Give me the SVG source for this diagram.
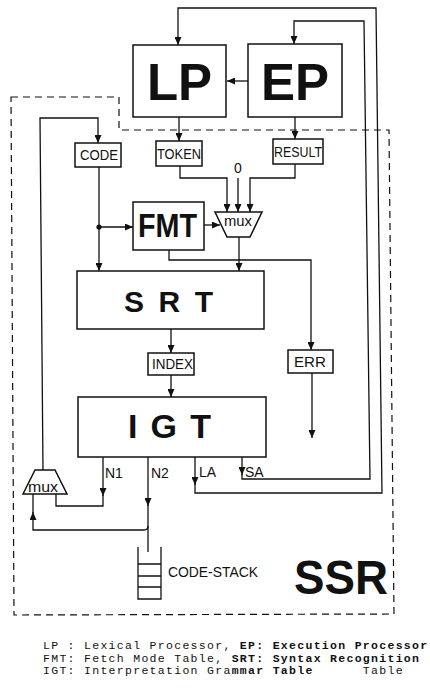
<svg xmlns="http://www.w3.org/2000/svg" width="430" height="689" viewBox="0 0 430 689">
<style>
.box{fill:#fff;stroke:#111;stroke-width:1.5}
.ln{fill:none;stroke:#111;stroke-width:1.3}
.dash{fill:none;stroke:#111;stroke-width:1.2;stroke-dasharray:7 5}
.big{font-family:"Liberation Sans",Arial,sans-serif;font-weight:bold;fill:#111}
.lbl{font-family:"Liberation Sans",Arial,sans-serif;font-size:14px;fill:#111}
.leg{font-family:"Liberation Mono","Courier New",monospace;font-size:11.5px;letter-spacing:1.3px;fill:#111}
.b{font-weight:bold}
</style>
<defs>
<marker id="ah" markerUnits="userSpaceOnUse" markerWidth="9" markerHeight="7" refX="8" refY="3.5" orient="auto">
<path d="M0,0 L8,3.5 L0,7 Z" fill="#111"/>
</marker>
</defs>
<rect width="430" height="689" fill="#fff"/>
<path class="dash" d="M11,97 L119,97 L119,130 L389,130 L394,614 L14,615 Z"/>
<g id="connectors">
<path class="ln" d="M248,81 L227,81" marker-end="url(#ah)"/>
<path class="ln" d="M179,117 L179,141" marker-end="url(#ah)"/>
<path class="ln" d="M295,117 L295,139" marker-end="url(#ah)"/>
<path class="ln" d="M43,470 L40,118 L98,118 L98,143" marker-end="url(#ah)"/>
<path class="ln" d="M180,166 L180,178 L227,178 L227,212" marker-end="url(#ah)"/>
<path class="ln" d="M238,178 L238,212" marker-end="url(#ah)"/>
<path class="ln" d="M295,164 L295,178 L250,178 L250,212" marker-end="url(#ah)"/>
<path class="ln" d="M99,167 L99,271" marker-end="url(#ah)"/>
<path class="ln" d="M99,227 L133,227" marker-end="url(#ah)"/>
<circle cx="99" cy="227" r="2.6" fill="#111"/>
<path class="ln" d="M204,225 L220,225" marker-end="url(#ah)"/>
<path class="ln" d="M239,237 L239,271" marker-end="url(#ah)"/>
<path class="ln" d="M169,250 L169,260 L311,260 L311,350" marker-end="url(#ah)"/>
<path class="ln" d="M171,329 L171,353" marker-end="url(#ah)"/>
<path class="ln" d="M171,375 L171,397" marker-end="url(#ah)"/>
<path class="ln" d="M312,373 L312,438" marker-end="url(#ah)"/>
<path class="ln" d="M103,457 L103,496" marker-end="url(#ah)"/>
<path class="ln" d="M103,495 L103,506 L56,506 L56,494"/>
<path class="ln" d="M148,457 L148,506" marker-end="url(#ah)"/>
<path class="ln" d="M148,505 L148,552"/>
<path class="ln" d="M148,526 Q148,530 144,530 L33,530 L33,512" marker-end="url(#ah)"/>
<path class="ln" d="M33,513 L33,494"/>
<path class="ln" d="M195,457 L195,485" marker-end="url(#ah)"/>
<path class="ln" d="M195,484 L195,493 L382,493 L376,8 L178,8 L178,45" marker-end="url(#ah)"/>
<path class="ln" d="M242,457 L242,475" marker-end="url(#ah)"/>
<path class="ln" d="M242,474 L242,479 L370,479 L364,21 L294,21 L294,44" marker-end="url(#ah)"/>
</g>
<g id="LP"><rect class="box" x="133" y="45" width="93" height="72"/><text class="big" x="179.5" y="100" font-size="51" text-anchor="middle">LP</text></g>
<g id="EP"><rect class="box" x="248" y="44" width="94" height="73"/><text class="big" x="295" y="100" font-size="51" text-anchor="middle">EP</text></g>
<g id="CODE"><rect class="box" x="75" y="143" width="46" height="24"/><text class="lbl" x="80" y="160" textLength="38" lengthAdjust="spacingAndGlyphs">CODE</text></g>
<g id="TOKEN"><rect class="box" x="156" y="141" width="46" height="25"/><text class="lbl" x="157" y="159" textLength="44" lengthAdjust="spacingAndGlyphs">TOKEN</text></g>
<g id="RESULT"><rect class="box" x="273" y="139" width="50" height="25"/><text class="lbl" x="274" y="157" textLength="48" lengthAdjust="spacingAndGlyphs">RESULT</text></g>
<g id="zero"><text class="lbl" x="238" y="173" font-size="15" text-anchor="middle">0</text></g>
<g id="FMT"><rect class="box" x="133" y="202" width="71" height="48"/><text class="big" x="138" y="237" font-size="33" textLength="59" lengthAdjust="spacingAndGlyphs">FMT</text></g>
<g id="mux1"><path class="box" d="M215,212 L262,212 L250,237 L227,237 Z"/><text class="lbl" x="224" y="226" font-size="15" textLength="28" lengthAdjust="spacingAndGlyphs">mux</text></g>
<g id="SRT"><rect class="box" x="77" y="271" width="187" height="58"/><text class="big" x="124" y="312" font-size="30" textLength="89" lengthAdjust="spacing">S R T</text></g>
<g id="INDEX"><rect class="box" x="148" y="353" width="46" height="22"/><text class="lbl" x="152" y="369" textLength="41" lengthAdjust="spacingAndGlyphs">INDEX</text></g>
<g id="ERR"><rect class="box" x="288" y="350" width="45" height="23"/><text class="lbl" x="294" y="367" textLength="32" lengthAdjust="spacingAndGlyphs">ERR</text></g>
<g id="IGT"><rect class="box" x="78" y="397" width="188" height="60"/><text class="big" x="128" y="438" font-size="34" textLength="83" lengthAdjust="spacing">I G T</text></g>
<g id="mux2"><path class="box" d="M35,470 L55,470 L67,494 L23,494 Z"/><text class="lbl" x="28" y="492" font-size="15" textLength="30" lengthAdjust="spacingAndGlyphs">mux</text></g>
<g id="labels">
<text class="lbl" x="105" y="478">N1</text>
<text class="lbl" x="151" y="478">N2</text>
<text class="lbl" x="199" y="477">LA</text>
<text class="lbl" x="245" y="477">SA</text>
</g>
<g id="CODE-STACK">
<path class="ln" d="M138,547 L138,599 L161,599 L161,547 M138,564 L161,564 M138,576 L161,576 M138,587 L161,587"/>
<text class="lbl" x="168" y="577" font-size="15" textLength="90" lengthAdjust="spacingAndGlyphs">CODE-STACK</text>
</g>
<g id="SSR"><text class="big" x="294" y="594" font-size="48" textLength="94" lengthAdjust="spacingAndGlyphs">SSR</text></g>
<g id="legend">
<text class="leg" x="43" y="649" xml:space="preserve">LP : Lexical Processor, <tspan class="b">EP: Execution Processor</tspan></text>
<text class="leg" x="43" y="661.5" xml:space="preserve">FMT: Fetch Mode Table, <tspan class="b">SRT: Syntax Recognition</tspan></text>
<text class="leg" x="43" y="674" xml:space="preserve">IGT: Interpretation Gra<tspan class="b">mmar Table</tspan>      Table</text>
</g>
</svg>
